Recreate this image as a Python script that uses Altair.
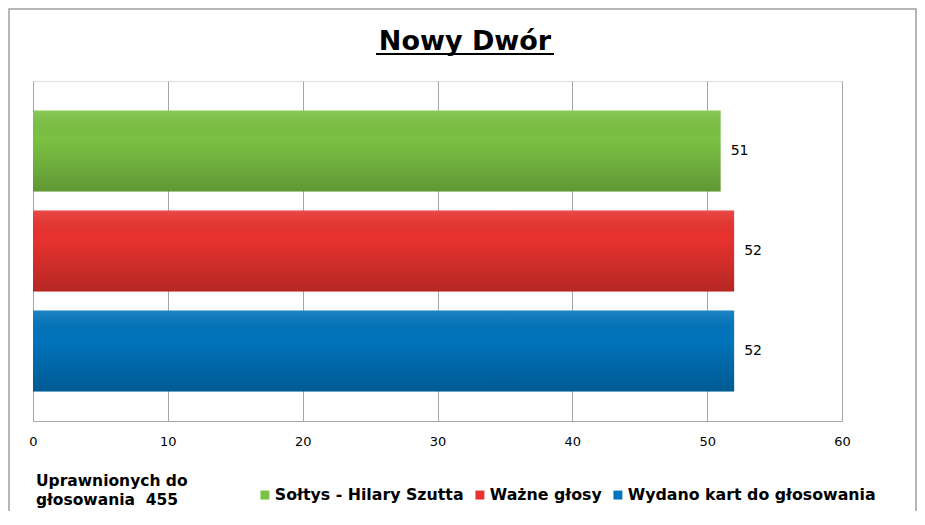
import altair as alt
import pandas as pd

series = ["Sołtys - Hilary Szutta", "Ważne głosy", "Wydano kart do głosowania"]
values = [51, 52, 52]
colors = ["#7BC243", "#E8322E", "#0074BC"]
x_ticks = [0, 10, 20, 30, 40, 50, 60]
title_text = "Nowy Dwór"
note_lines = ["Uprawnionych do", "głosowania\u00a0 455"]

df = pd.DataFrame({"series": series, "value": values})

FONT = "DejaVu Sans"

x_enc = alt.X(
    "value:Q",
    scale=alt.Scale(domain=[0, 60]),
    axis=alt.Axis(
        values=x_ticks, title=None, grid=True, gridColor="#A6A6A6", gridWidth=1,
        domain=True, domainColor="#A6A6A6", ticks=False, labelPadding=14,
        labelFont=FONT, labelFontSize=13, labelColor="#000000", labelFlush=False,
    ),
)
y_enc = alt.Y(
    "series:N", sort=series, axis=None,
    scale=alt.Scale(paddingInner=0.19, paddingOuter=0.295),
)

base = alt.Chart(df)

bars = base.mark_bar(cornerRadius=0).encode(
    x=x_enc,
    y=y_enc,
    color=alt.Color(
        "series:N",
        sort=series,
        scale=alt.Scale(domain=series, range=colors),
        legend=alt.Legend(
            title=None, orient="none", direction="horizontal",
            legendX=224, legendY=406, symbolType="square", symbolSize=80,
            symbolStrokeWidth=0, labelFont=FONT, labelFontSize=15.8,
            labelFontWeight="bold", labelColor="#000000", labelOffset=2,
            columnPadding=8, symbolOpacity=1, labelLimit=0,
        ),
    ),
)

shade = base.mark_bar(
    fill=alt.Gradient(
        gradient="linear",
        stops=[
            alt.GradientStop(color="rgba(255,255,255,0.12)", offset=0),
            alt.GradientStop(color="rgba(0,0,0,0.0)", offset=0.35),
            alt.GradientStop(color="rgba(0,0,0,0.22)", offset=1),
        ],
        x1=0, x2=0, y1=0, y2=1,
    )
).encode(x="value:Q", y=alt.Y("series:N", sort=series))

labels = base.mark_text(
    align="left", baseline="middle", dx=10, font=FONT, fontSize=14, color="#000000"
).encode(x="value:Q", y=alt.Y("series:N", sort=series), text="value:Q")

note = alt.Chart(pd.DataFrame({"t": [note_lines]})).mark_text(
    align="left", baseline="top", font=FONT, fontSize=15.5, fontWeight="bold",
    color="#000000", lineHeight=19,
).encode(text="t", x=alt.value(3), y=alt.value(393))

title = alt.Chart(pd.DataFrame({"t": [title_text]})).mark_text(
    align="center", baseline="alphabetic", font=FONT, fontSize=27, fontWeight="bold",
    color="#000000",
).encode(text="t", x=alt.value(432), y=alt.value(-31))

underline = alt.Chart(pd.DataFrame({"a": [0]})).mark_rule(
    color="#000000", strokeWidth=2
).encode(x=alt.value(343), x2=alt.value(521), y=alt.value(-27))

frame = alt.Chart(pd.DataFrame({"a": [0]})).mark_rect(
    fill=None, stroke="#A0A0A0", strokeWidth=1.5
).encode(x=alt.value(-24), x2=alt.value(883), y=alt.value(-72), y2=alt.value(470))

chart = alt.layer(frame, bars, shade, labels, note, title, underline).properties(
    width=809,
    height=340,
    autosize=alt.AutoSizeParams(type="none"),
    padding={"left": 25, "top": 73, "right": 75, "bottom": 90},
).configure_view(stroke=None).configure(background="#FFFFFF")

chart.save("out.html", embed_options={"renderer": "svg", "actions": False})
